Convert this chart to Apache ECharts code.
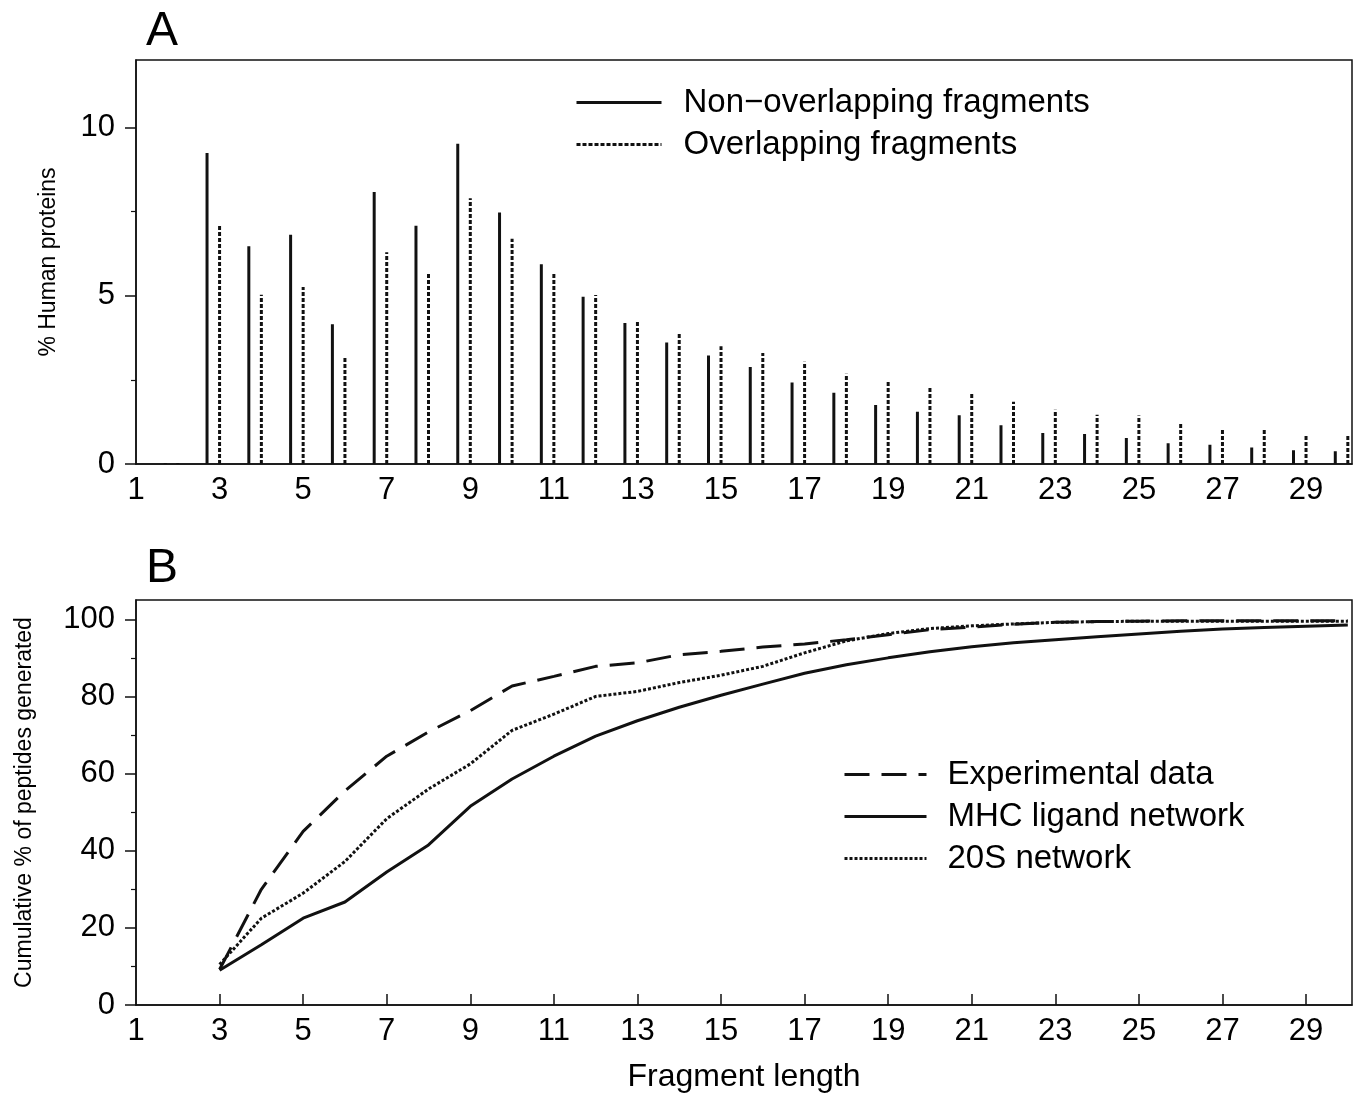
<!DOCTYPE html>
<html>
<head>
<meta charset="utf-8">
<script src="https://cdn.jsdelivr.net/npm/echarts@6/dist/echarts.min.js"></script>
<style>
html,body{margin:0;padding:0;background:#fff;}
#chart{width:1361px;height:1095px;}
</style>
</head>
<body>
<div id="chart"></div>
<script>
// ---------- Panel A data ----------
const lengthsA = [2,3,4,5,6,7,8,9,10,11,12,13,14,15,16,17,18,19,20,21,22,23,24,25,26,27,28,29,30];
const nonOverlapping = [0.03,9.24,6.47,6.81,4.15,8.08,7.08,9.51,7.47,5.93,4.97,4.19,3.61,3.22,2.88,2.42,2.12,1.75,1.55,1.45,1.15,0.92,0.89,0.77,0.62,0.57,0.49,0.41,0.38];
const overlapping    = [0.03,7.09,5.03,5.26,3.21,6.29,5.68,7.89,6.69,5.68,5.02,4.25,3.86,3.50,3.30,3.04,2.68,2.44,2.26,2.08,1.85,1.61,1.46,1.44,1.25,1.04,1.04,0.85,0.84];

// ---------- Panel B data ----------
const lengthsB = [3,4,5,6,7,8,9,10,11,12,13,14,15,16,17,18,19,20,21,22,23,24,25,26,27,28,29,30];
const experimental = [9.2,30,45,55.5,64.5,70.8,76.3,82.7,85.2,87.8,88.7,90.8,91.7,92.8,93.6,94.7,96.0,97.3,98.0,98.7,99.2,99.4,99.5,99.6,99.6,99.6,99.6,99.6];
const mhcNetwork   = [9,15.6,22.5,26.7,34.5,41.5,51.5,58.6,64.5,69.7,73.7,77.2,80.3,83.2,86.0,88.2,90.0,91.6,92.9,93.9,94.7,95.5,96.2,96.9,97.5,97.9,98.2,98.5];
const s20Network   = [10.5,22.5,29,37.2,48.3,56,62.5,71.2,75.4,80,81.3,83.6,85.5,87.8,91.3,94.4,96.3,97.6,98.3,98.8,99.2,99.4,99.5,99.5,99.5,99.5,99.5,99.5];

// ---------- Tick labels ----------
const xTickLabels = [1,3,5,7,9,11,13,15,17,19,21,23,25,27,29];
const xTicksB = [3,5,7,9,11,13,15,17,19,21,23,25,27,29];
const yTicksA = [0,5,10];
const yMinorA = [2.5,7.5];
const yTicksB = [0,20,40,60,80,100];
const yMinorB = [10,30,50,70,90];

const FONT = '"Liberation Sans", Arial, Helvetica, sans-serif';
const INK = '#111';

function stems(xs, vals, offset) {
  const d = [];
  xs.forEach((n, i) => {
    d.push([n + offset, 0], [n + offset, vals[i]], [n + offset, '-']);
  });
  return d;
}
function pairs(xs, vals) { return xs.map((n, i) => [n, vals[i]]); }

const chart = echarts.init(document.getElementById('chart'), null, {renderer: 'canvas'});

function xAxisCfg(gridIndex, showTicks, name) {
  return {
    type: 'value', gridIndex, min: 1, max: 30.1,
    axisLine: {show: true, onZero: false, lineStyle: {color: INK, width: 1.5}},
    axisTick: {show: showTicks, inside: true, length: 11, customValues: xTicksB, lineStyle: {color: INK, width: 1.5}},
    axisLabel: {customValues: xTickLabels, margin: 11, color: '#000', fontSize: 31, fontFamily: FONT},
    splitLine: {show: false},
    name: name || '', nameLocation: 'middle', nameGap: 56,
    nameTextStyle: {color: '#000', fontSize: 32, fontFamily: FONT}
  };
}
function yAxisCfg(gridIndex, max, ticks, name, nameGap) {
  return {
    type: 'value', gridIndex, min: 0, max,
    axisLine: {show: true, lineStyle: {color: INK, width: 1.5}},
    axisTick: {show: true, inside: false, length: 11, customValues: ticks, lineStyle: {color: INK, width: 1.5}},
    axisLabel: {customValues: ticks, margin: 21, color: '#000', fontSize: 31, fontFamily: FONT},
    splitLine: {show: false},
    name, nameLocation: 'middle', nameGap, nameRotate: 90,
    nameTextStyle: {color: '#000', fontSize: 23, fontFamily: FONT}
  };
}
function yMinorCfg(gridIndex, max, ticks) {
  return {
    type: 'value', gridIndex, min: 0, max, position: 'left',
    axisLine: {show: false},
    axisTick: {show: true, inside: false, length: 5, customValues: ticks, lineStyle: {color: INK, width: 1.2}},
    axisLabel: {show: false},
    splitLine: {show: false}
  };
}

const legendItemStyle = {color: 'transparent', borderWidth: 0, opacity: 0};

const option = {
  backgroundColor: '#fff',
  animation: false,
  title: [
    {text: 'A', left: 141, top: 3, textStyle: {fontSize: 48, fontWeight: 'normal', color: '#000', fontFamily: FONT}},
    {text: 'B', left: 141, top: 540, textStyle: {fontSize: 48, fontWeight: 'normal', color: '#000', fontFamily: FONT}}
  ],
  grid: [
    {left: 136, right: 9, top: 60, height: 404, show: true, borderColor: INK, borderWidth: 1.5, backgroundColor: 'transparent'},
    {left: 136, right: 9, top: 600, height: 405, show: true, borderColor: INK, borderWidth: 1.5, backgroundColor: 'transparent'}
  ],
  legend: [
    {
      data: ['Non−overlapping fragments', 'Overlapping fragments'],
      orient: 'vertical', left: 570, top: 81, itemWidth: 85, itemHeight: 20, itemGap: 9,
      itemStyle: legendItemStyle,
      lineStyle: {width: 3},
      textStyle: {fontSize: 33, color: '#000', fontFamily: FONT, padding: [0, 0, 0, 17]},
      selectedMode: false
    },
    {
      data: ['Experimental data', 'MHC ligand network', '20S network'],
      orient: 'vertical', left: 838, top: 753, itemWidth: 82, itemHeight: 20, itemGap: 9,
      itemStyle: legendItemStyle,
      lineStyle: {width: 3},
      textStyle: {fontSize: 33, color: '#000', fontFamily: FONT, padding: [0, 0, 0, 16]},
      selectedMode: false
    }
  ],
  xAxis: [
    xAxisCfg(0, false, ''),
    xAxisCfg(1, true, 'Fragment length')
  ],
  yAxis: [
    yAxisCfg(0, 12, yTicksA, '% Human proteins', 76),
    yAxisCfg(1, 105, yTicksB, 'Cumulative % of peptides generated', 100),
    yMinorCfg(0, 12, yMinorA),
    yMinorCfg(1, 105, yMinorB)
  ],
  series: [
    {
      name: 'Non−overlapping fragments', type: 'line', xAxisIndex: 0, yAxisIndex: 0,
      data: stems(lengthsA, nonOverlapping, -0.3), showSymbol: false, symbol: 'none', connectNulls: false,
      lineStyle: {color: INK, width: 3, cap: 'butt'}, itemStyle: {color: INK}
    },
    {
      name: 'Overlapping fragments', type: 'line', xAxisIndex: 0, yAxisIndex: 0,
      data: stems(lengthsA, overlapping, 0.0), showSymbol: false, symbol: 'none', connectNulls: false,
      lineStyle: {color: INK, width: 3, type: [4, 2], cap: 'butt'}, itemStyle: {color: INK}
    },
    {
      name: 'Experimental data', type: 'line', xAxisIndex: 1, yAxisIndex: 1,
      data: pairs(lengthsB, experimental), showSymbol: false, symbol: 'none',
      lineStyle: {color: INK, width: 3, type: [25, 12]}, itemStyle: {color: INK}
    },
    {
      name: 'MHC ligand network', type: 'line', xAxisIndex: 1, yAxisIndex: 1,
      data: pairs(lengthsB, mhcNetwork), showSymbol: false, symbol: 'none',
      lineStyle: {color: INK, width: 3}, itemStyle: {color: INK}
    },
    {
      name: '20S network', type: 'line', xAxisIndex: 1, yAxisIndex: 1,
      data: pairs(lengthsB, s20Network), showSymbol: false, symbol: 'none',
      lineStyle: {color: INK, width: 3, type: [3, 2]}, itemStyle: {color: INK}
    }
  ]
};
chart.setOption(option);
</script>
</body>
</html>
